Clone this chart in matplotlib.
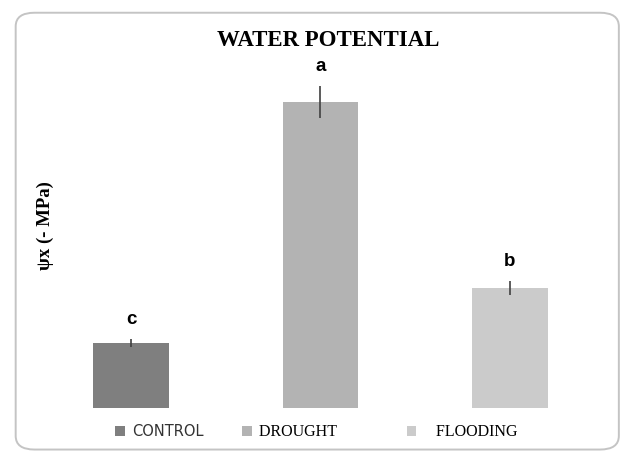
import matplotlib
matplotlib.use("Agg")
import matplotlib.pyplot as plt
from matplotlib.patches import FancyBboxPatch

treatments = ["CONTROL", "DROUGHT", "FLOODING"]
values = [65, 306, 120]
errors = [4, 16, 7]
letters = ["c", "a", "b"]
colors = ["#7f7f7f", "#b3b3b3", "#cbcbcb"]

fig = plt.figure(figsize=(6.27, 4.55), dpi=100)
fig.patch.set_facecolor("white")

# rounded frame around the chart
frame = FancyBboxPatch((0.025, 0.012), 0.962, 0.96, boxstyle="round,pad=0,rounding_size=0.03",
                       transform=fig.transFigure, facecolor="none", edgecolor="#c4c4c4",
                       lw=1.4, zorder=-1)
fig.patches.append(frame)

ax = fig.add_axes([0.1333, 0.1033, 0.7555, 0.7473])
x = list(range(len(treatments)))
bars = ax.bar(x, values, width=0.4, color=colors, yerr=errors,
              error_kw=dict(ecolor="#404040", elinewidth=1.2, capsize=0))
for xi, v, e, lab in zip(x, values, errors, letters):
    ax.text(xi, v + e + 11, lab, ha="center", va="bottom", fontsize=13.5,
            fontweight="bold", family="Liberation Sans")

ax.set_xlim(-0.25, 2.25)
ax.set_ylim(0, 340)
ax.set_xticks([])
ax.set_yticks([])
for s in ax.spines.values():
    s.set_visible(False)
ax.patch.set_alpha(0)

fig.text(0.524, 0.912, "WATER POTENTIAL", ha="center", va="center", fontsize=16.5,
         fontweight="bold", family="Liberation Serif")
fig.text(0.072, 0.505, "ψx (- MPa)", ha="center", va="center", rotation=90,
         fontsize=13.5, fontweight="bold", family="Liberation Serif")

leg = fig.legend(bars, ["CONTROL", "DROUGHT        ", "   FLOODING"], loc="center left",
                 bbox_to_anchor=(0.184, 0.05), ncol=3, frameon=False, borderaxespad=0,
                 borderpad=0, handlelength=0.6, handleheight=0.6, handletextpad=0.45,
                 columnspacing=2.4, fontsize=11.5)
texts = leg.get_texts()
texts[0].set_family("DejaVu Sans")
texts[0].set_fontsize(10.5)
texts[0].set_color("#333333")
texts[1].set_family("Liberation Serif")
texts[2].set_family("Liberation Serif")

fig.savefig("out.png", dpi=100)
